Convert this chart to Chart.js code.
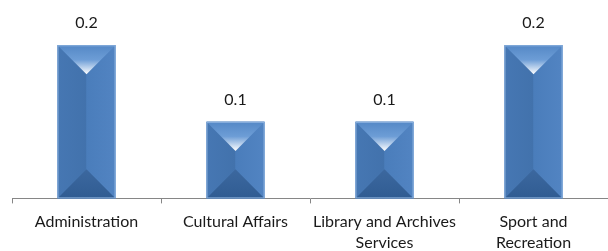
<!DOCTYPE html>
<html lang="en">
<head>
<meta charset="UTF-8">
<title>Bars</title>
<script src="https://cdn.jsdelivr.net/npm/chart.js@4/dist/chart.umd.min.js"></script>
<style>
  html, body { margin: 0; padding: 0; background: #fff; }
  #wrap { width: 608px; height: 251px; }
</style>
</head>
<body>
<div id="wrap"><canvas id="barChart"></canvas></div>
<script>
  // Datos
  const categories = [
    'Administration',
    'Cultural Affairs',
    ['Library and Archives', 'Services'],
    ['Sport and', 'Recreation']
  ];
  const values = [0.2, 0.1, 0.1, 0.2];
  const valueLabels = ['0.2', '0.1', '0.1', '0.2'];

  // bisel tipo piramide encima de cada barra
  const bevelPlugin = {
    id: 'bevel',
    afterDatasetsDraw(chart) {
      const ctx = chart.ctx;
      const meta = chart.getDatasetMeta(0);
      meta.data.forEach((bar, i) => {
        const l = bar.x - bar.width / 2, r = bar.x + bar.width / 2;
        const t = bar.y, b = bar.base;
        const d = bar.width / 2;
        const cx = bar.x;
        ctx.save();
        // lado izquierdo
        let g = ctx.createLinearGradient(l, 0, cx, 0);
        g.addColorStop(0, '#4677b3');
        g.addColorStop(1, '#4272ac');
        ctx.fillStyle = g;
        ctx.fillRect(l, t, d, b - t);
        // lado derecho
        g = ctx.createLinearGradient(cx, 0, r, 0);
        g.addColorStop(0, '#4a7dbb');
        g.addColorStop(1, '#5284c2');
        ctx.fillStyle = g;
        ctx.fillRect(cx, t, d, b - t);
        // triangulo de abajo
        ctx.beginPath();
        ctx.moveTo(l, b); ctx.lineTo(r, b); ctx.lineTo(cx, b - d); ctx.closePath();
        g = ctx.createLinearGradient(0, b, 0, b - d);
        g.addColorStop(0, '#305c92');
        g.addColorStop(1, '#3c689f');
        ctx.fillStyle = g;
        ctx.fill();
        // triangulo de arriba
        ctx.beginPath();
        ctx.moveTo(l, t); ctx.lineTo(r, t); ctx.lineTo(cx, t + d); ctx.closePath();
        g = ctx.createLinearGradient(0, t, 0, t + d);
        g.addColorStop(0, '#5488c6');
        g.addColorStop(0.5, '#6d9dd6');
        g.addColorStop(1, '#ffffff');
        ctx.fillStyle = g;
        ctx.fill();
        // borde
        ctx.strokeStyle = '#8fb4e0';
        ctx.lineWidth = 1;
        ctx.strokeRect(l + 0.5, t + 0.5, bar.width - 1, b - t - 1);
        // etiqueta
        ctx.fillStyle = '#1a1a1a';
        ctx.font = '16px Lato, "Open Sans", sans-serif';
        ctx.textAlign = 'center';
        ctx.textBaseline = 'middle';
        ctx.fillText(valueLabels[i], cx, t - 22);
        ctx.restore();
      });
    }
  };

  new Chart(document.getElementById('barChart'), {
    type: 'bar',
    data: {
      labels: categories,
      datasets: [{ data: values, backgroundColor: '#4a7ebb', borderWidth: 0 }]
    },
    options: {
      responsive: true,
      maintainAspectRatio: false,
      animation: false,
      layout: { padding: { left: 12, right: 0, top: 7, bottom: -10 } },
      plugins: { legend: { display: false }, tooltip: { enabled: false } },
      datasets: { bar: { categoryPercentage: 1, barPercentage: 0.39 } },
      scales: {
        x: {
          grid: { offset: true, drawOnChartArea: false, drawTicks: true, tickLength: 5, color: '#868686' },
          border: { display: true, color: '#868686' },
          ticks: { color: '#1a1a1a', font: { family: 'Lato, "Open Sans", sans-serif', size: 16, lineHeight: 1.3 }, padding: 8, maxRotation: 0, autoSkip: false }
        },
        y: { display: false, min: 0, max: 0.25 }
      }
    },
    plugins: [bevelPlugin]
  });
</script>
</body>
</html>
